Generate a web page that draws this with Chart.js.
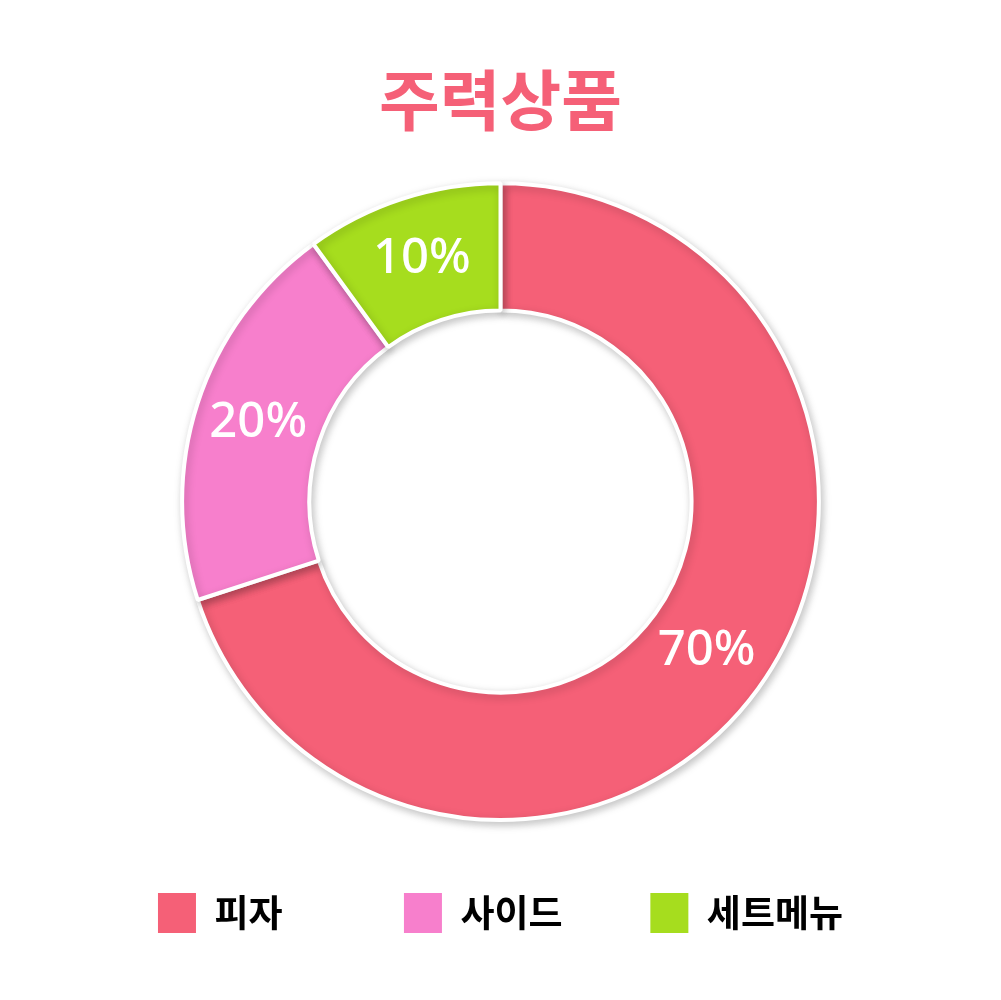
<!DOCTYPE html>
<html>
<head>
<title>주력상품</title>
<script src="https://cdn.jsdelivr.net/npm/chart.js"></script>
<style>
  html, body { margin: 0; padding: 0; background: #fff; }
  #wrap { width: 1001px; height: 1000px; }
</style>
</head>
<body>
<div id="wrap"><canvas id="productChart"></canvas></div>
<script>
const categories = ['피자', '사이드', '세트메뉴'];
const shares = [70, 20, 10];
const sliceColors = ['#F56077', '#F77FCC', '#A6DD1E'];

const legendFont = { family: '"Noto Sans CJK KR", sans-serif', size: 37, weight: 'bold' };
const legendTextWidth = 116;   // pad names so the legend cells come out evenly spaced

// white percentage text in the middle of each slice
const sliceLabels = {
    id: 'sliceLabels',
    afterDatasetsDraw(chart) {
        const ctx = chart.ctx;
        const meta = chart.getDatasetMeta(0);
        ctx.save();
        ctx.fillStyle = '#fff';
        ctx.font = '500 49px "Noto Sans", sans-serif';
        ctx.textAlign = 'center';
        ctx.textBaseline = 'middle';
        meta.data.forEach(function(arc, i) {
            const p = arc.tooltipPosition();
            ctx.fillText(shares[i] + '%', p.x, p.y);
        });
        ctx.restore();
    }
};

// soft grey shadow under the ring
const ringShadow = {
    id: 'ringShadow',
    beforeDatasetDraw(chart) {
        const ctx = chart.ctx;
        ctx.save();
        ctx.shadowColor = 'rgba(0,0,0,0.22)';
        ctx.shadowBlur = 9;
        ctx.shadowOffsetX = 2;
        ctx.shadowOffsetY = 3;
    },
    afterDatasetDraw(chart) {
        chart.ctx.restore();
    }
};

document.addEventListener('DOMContentLoaded', function() {
    const ctx = document.getElementById('productChart').getContext('2d');
    new Chart(ctx, {
        type: 'doughnut',
        data: {
            labels: categories,
            datasets: [{
                data: shares,
                backgroundColor: sliceColors,
                borderColor: '#fff',
                borderWidth: 4,
                hoverOffset: 0
            }]
        },
        options: {
            responsive: true,
            maintainAspectRatio: false,
            animation: false,
            cutout: '60%',
            layout: { padding: { top: 0, bottom: 57 } },
            plugins: {
                title: {
                    display: true,
                    text: '주력상품',
                    color: '#F56077',
                    font: { family: '"Noto Sans CJK KR", sans-serif', size: 66, weight: 'bold' },
                    padding: { top: 60, bottom: 42 }
                },
                legend: {
                    position: 'bottom',
                    labels: {
                        color: '#000',
                        boxWidth: 38,
                        boxHeight: 40,
                        padding: 71,
                        font: legendFont,
                        generateLabels: function(chart) {
                            const items = Chart.overrides.doughnut.plugins.legend.labels.generateLabels(chart);
                            const c = chart.ctx;
                            c.save();
                            c.font = 'bold ' + legendFont.size + 'px ' + legendFont.family;
                            items.forEach(function(item, i) {
                                item.lineWidth = 0;
                                item.strokeStyle = 'rgba(0,0,0,0)';
                                if (i === items.length - 1) return;
                                while (c.measureText(item.text).width < legendTextWidth) {
                                    item.text += ' ';
                                }
                            });
                            c.restore();
                            return items;
                        }
                    }
                },
                tooltip: { enabled: false }
            }
        },
        plugins: [ringShadow, sliceLabels]
    });
});
</script>
</body>
</html>
